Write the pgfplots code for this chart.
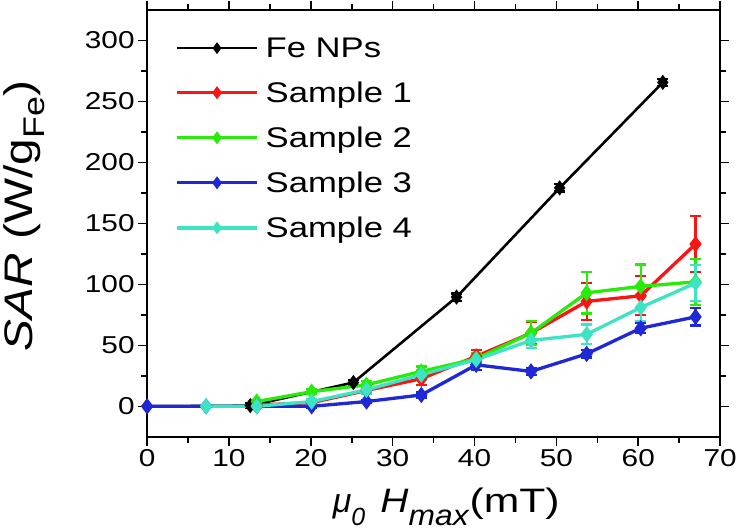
\documentclass[border=0pt]{standalone}
\usepackage{fontspec}
\setmainfont{Liberation Sans}
\usepackage{graphicx}
\usepackage{pgfplots}
\usepackage{pgfplotstable}
\pgfplotsset{compat=1.18}
\definecolor{cred}{RGB}{250,20,20}
\definecolor{cgreen}{RGB}{40,235,10}
\definecolor{cblue}{RGB}{30,40,215}
\definecolor{ccyan}{RGB}{60,228,195}
\newcommand{\sx}[1]{\scalebox{1.22}[1]{#1}}

\pgfplotstableread{
x y e
0 0 0
12.6 0.5 2
25.2 19.5 2
37.8 89.5 3
50.4 179 3
63.0 265.5 3
}\fenps
\pgfplotstableread{
x y e
13.4 1 1
20.1 3 2
26.8 13 3
33.5 22.6 5
40.2 41 5
46.9 60 9
53.7 86 15
60.3 90.6 16
67.0 133 23
}\sone
\pgfplotstableread{
x y e
13.4 3.9 1
20.1 12 2
26.8 17.6 3
33.5 28.6 4
40.2 39 5
46.9 60 10
53.7 93 17
60.3 98.3 18
67.0 102 19
}\stwo
\pgfplotstableread{
x y e
0 0 0
7.2 0 0
13.4 0 1
20.1 0 1
26.8 3.9 1
33.5 9.3 2
40.2 34 4
46.9 28.6 3
53.7 43 3
60.3 64 4
67.0 73.3 7
}\sthree
\pgfplotstableread{
x y e
7.2 0 0
13.4 0 1
20.1 3.9 2
26.8 13.5 3
33.5 25.9 4
40.2 38.3 4
46.9 54 6
53.7 59 8
60.3 81 11
67.0 101 15
}\sfour

\begin{document}
\begin{tikzpicture}
\pgfplotsset{
  ser/.style={line width=#1, mark=diamond*, mark size=5.5bp,
    /pgfplots/error bars/y dir=both, /pgfplots/error bars/y explicit,
    /pgfplots/error bars/error bar style={line width=2.2bp},
    /pgfplots/error bars/error mark options={rotate=90, mark size=5.5bp, line width=2.2bp}},
  ser/.default=3.3bp,
}
\begin{axis}[
  scale only axis, width=573bp, height=427bp,
  xmin=0, xmax=70, ymin=-25, ymax=325,
  xtick={0,10,...,70}, ytick={0,50,...,300},
  minor x tick num=1, minor y tick num=1,
  major tick length=9bp, minor tick length=6bp,
  every tick/.style={line width=1.6bp, black},
  axis line style={line width=1.9bp},
  tick align=outside, xtick pos=both, ytick pos=both,
  xticklabel pos=bottom, yticklabel pos=left,
  /pgf/number format/assume math mode=true,
  xticklabel={\sx{\pgfmathprintnumber{\tick}}},
  yticklabel={\sx{\pgfmathprintnumber{\tick}}},
  ticklabel style={font=\fontsize{24.5}{24.5}\selectfont},
  xlabel={\textit{μ}\raisebox{-0.36em}{\fontsize{25}{25}\selectfont\textit{0}}\hspace{0.45em}\scalebox{1.15}[1]{\textit{H}}\raisebox{-0.36em}{\fontsize{29}{29}\selectfont\scalebox{1.1}[1]{\textit{max}}}\scalebox{1.26}[1]{(mT)}},
  ylabel={\scalebox{1.2}[1]{\textit{SAR} (W/g\textsubscript{\fontsize{30}{30}\selectfont Fe})}},
  xlabel style={font=\fontsize{34}{34}\selectfont, at={(axis description cs:0.522,-0.178)}, anchor=base},
  ylabel style={font=\fontsize{40}{40}\selectfont, at={(axis description cs:-0.215,0.518)}, anchor=center},
  legend style={draw=none, fill=none, at={(axis description cs:0.049,0.94)}, anchor=north west,
    inner sep=0pt, nodes={inner sep=2bp},
    /tikz/every odd column/.append style={column sep=5bp},
    font=\fontsize{28.5}{28.5}\selectfont, row sep=19bp},
  legend cell align=left,
  legend image code/.code={\draw[#1, mark repeat=2, mark phase=2, mark size=3.8bp] plot coordinates {(0bp,0bp) (40bp,0bp) (80bp,0bp)};},
]
\addplot[black, ser=2.6bp] table[x=x, y=y, y error=e] {\fenps};
\addlegendentry{\sx{Fe NPs}}
\addplot[cred, ser] table[x=x, y=y, y error=e] {\sone};
\addlegendentry{\sx{Sample 1}}
\addplot[cgreen, ser] table[x=x, y=y, y error=e] {\stwo};
\addlegendentry{\sx{Sample 2}}
\addplot[cblue, ser] table[x=x, y=y, y error=e] {\sthree};
\addlegendentry{\sx{Sample 3}}
\addplot[ccyan, ser] table[x=x, y=y, y error=e] {\sfour};
\addlegendentry{\sx{Sample 4}}
\end{axis}
\end{tikzpicture}
\end{document}
